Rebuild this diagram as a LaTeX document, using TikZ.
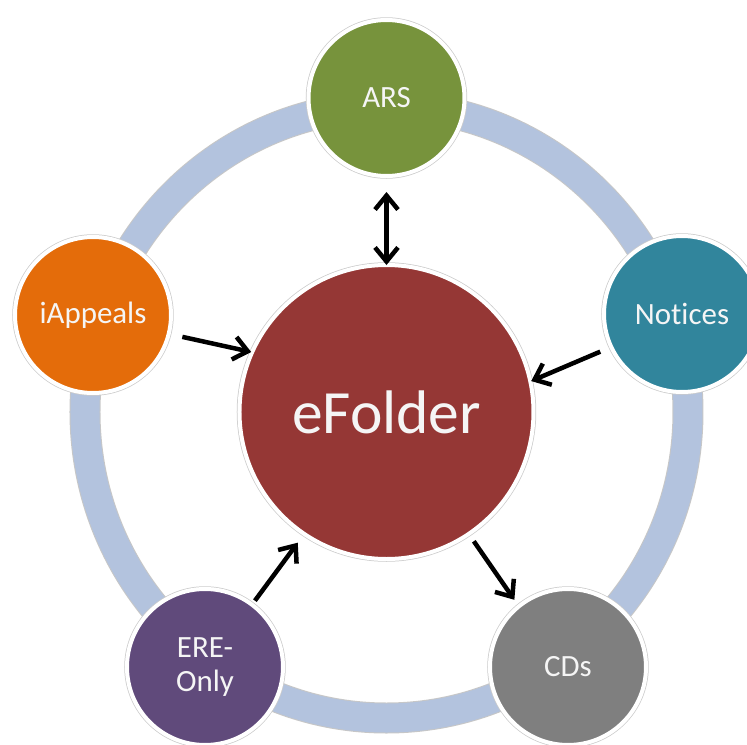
\documentclass[tikz,border=0pt]{standalone}
\usepackage{fontspec}
\setmainfont{Carlito}[Ligatures=NoCommon]
\usetikzlibrary{arrows.meta}
\definecolor{ringblue}{RGB}{179,195,222}
\definecolor{arsgreen}{RGB}{119,147,60}
\definecolor{iaporange}{RGB}{228,108,10}
\definecolor{notteal}{RGB}{49,133,156}
\definecolor{efored}{RGB}{149,55,53}
\definecolor{erepurple}{RGB}{96,74,123}
\definecolor{cdsgray}{RGB}{127,127,127}
\tikzset{
  ring/.style     = {draw=ringblue, line width=0.58cm,
                     preaction={draw=black!22, line width=0.62cm}},
  disc/.style     = {circle, fill=#1, draw=white, line width=0.08cm,
                     outer sep=0pt, text=white!96!black, align=center,
                     preaction={draw=black!20, line width=0.11cm}},
  sat/.style      = {disc=#1, minimum size=3.12cm,
                     font=\fontsize{17.6}{19}\selectfont},
  hub/.style      = {disc=#1, minimum size=5.88cm,
                     font=\fontsize{35}{40}\selectfont},
  link/.style     = {-{Straight Barb[length=0.28cm,width=0.46cm]}, line width=0.09cm},
  duallink/.style = {{Straight Barb[length=0.28cm,width=0.46cm]}-{Straight Barb[length=0.28cm,width=0.46cm]},
                     line width=0.09cm},
}

\begin{document}
\begin{tikzpicture}
  \useasboundingbox (-7.73,-6.64) rectangle (7.21,8.24);

  % outer ring
  \coordinate (mid) at (0,0);
  \draw[ring] (mid) ellipse [x radius=6.03cm, y radius=6.12cm];

  % centre
  \node[hub=efored] (efo) at (mid) {eFolder};

  % satellites
  \node[sat=arsgreen]  (ars) at (0,6.28)      {ARS};
  \node[sat=iaporange] (iap) at (-5.87,1.94)  {iAppeals};
  \node[sat=notteal]   (not) at (5.91,1.96)   {Notices};
  \node[sat=erepurple] (ere) at (-3.63,-5.10) {ERE-\\Only};
  \node[sat=cdsgray]   (cds) at (3.63,-5.10)  {CDs};

  % links
  \draw[duallink, shorten <=0.32cm] (ars.south) -- (efo.north);
  \draw[link, shorten <=0.28cm, shorten >=0.02cm] (iap.-14) -- (efo.156);
  \draw[link, shorten <=0.24cm, shorten >=0.02cm] (not.-155) -- (efo.12);
  \draw[link, shorten <=0.1cm, shorten >=0.22cm] (ere.53) -- (efo.236);
  \draw[link, shorten <=0.18cm, shorten >=0.16cm] (efo.-56) -- (cds.129);
\end{tikzpicture}
\end{document}
